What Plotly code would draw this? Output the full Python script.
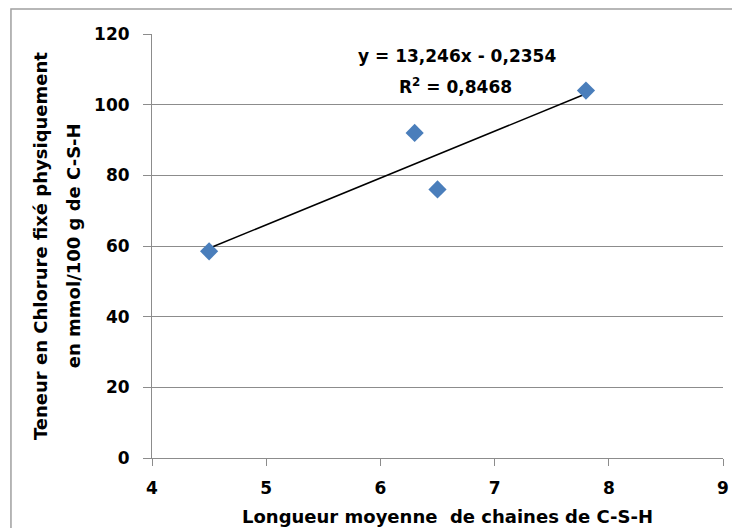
import plotly.graph_objects as go

# Data
chain_length = [4.5, 6.3, 6.5, 7.8]
chloride = [58.5, 92.0, 76.0, 104.0]

# Linear trendline as printed on the chart
slope = 13.246
intercept = -0.2354
equation_text = "y = 13,246x - 0,2354"
r2_text = "R<sup>2</sup> = 0,8468"

x_title = "Longueur moyenne  de chaines de C-S-H"
y_title_lines = ["Teneur en Chlorure fixé physiquement", "en mmol/100 g de C-S-H"]

x_ticks = [4, 5, 6, 7, 8, 9]
y_ticks = [0, 20, 40, 60, 80, 100, 120]

FONT = "DejaVu Sans"
GRID = "#8c8c8c"

x_fit = [min(chain_length), max(chain_length)]
y_fit = [slope * x + intercept for x in x_fit]

fig = go.Figure()

fig.add_trace(go.Scatter(
    x=x_fit, y=y_fit,
    mode="lines",
    line=dict(color="black", width=1.5),
    showlegend=False,
    hoverinfo="skip",
))

fig.add_trace(go.Scatter(
    x=chain_length, y=chloride,
    mode="markers",
    marker=dict(symbol="diamond", size=14, color="#4a7ebb"),
    showlegend=False,
))

bold = lambda size: dict(family=FONT, size=size, color="black", weight="bold")


def label(x, y, text, size, angle=0):
    fig.add_annotation(x=x, y=y, xref="paper", yref="paper",
                       xanchor="center", yanchor="middle",
                       text=text, textangle=angle, showarrow=False,
                       font=bold(size))


# trendline equation, two lines
label(0.534, 0.948, equation_text, 17)
label(0.531, 0.877, r2_text, 17)

# axis titles
label(0.517, -0.139, x_title, 18)
label(-0.196, 0.5, y_title_lines[0], 18, angle=-90)
label(-0.138, 0.5, y_title_lines[1], 18, angle=-90)

# outer chart border
fig.add_shape(
    type="rect", xref="paper", yref="paper",
    x0=-0.247, x1=1.2, y0=-0.4, y1=1.059,
    line=dict(color="#a0a0a0", width=1.5),
    layer="below",
)

fig.update_xaxes(
    range=[4, 9],
    tickvals=x_ticks,
    ticks="outside", ticklen=7, tickcolor=GRID,
    ticklabelstandoff=8,
    showline=True, linecolor=GRID, linewidth=1,
    showgrid=False, zeroline=False,
    tickfont=bold(17),
)

fig.update_yaxes(
    range=[0, 120],
    tickvals=y_ticks,
    ticks="outside", ticklen=8, tickcolor=GRID,
    ticklabelstandoff=10,
    showline=True, linecolor=GRID, linewidth=1,
    showgrid=True, gridcolor=GRID, gridwidth=1,
    zeroline=False,
    tickfont=bold(17),
)

# the page body adds an 8px offset, so the figure is sized to fit the window
fig.update_layout(
    width=732, height=520,
    margin=dict(l=144, r=17, t=26, b=70),
    plot_bgcolor="white",
    paper_bgcolor="white",
    font=dict(family=FONT),
)

fig.write_html("out.html")
